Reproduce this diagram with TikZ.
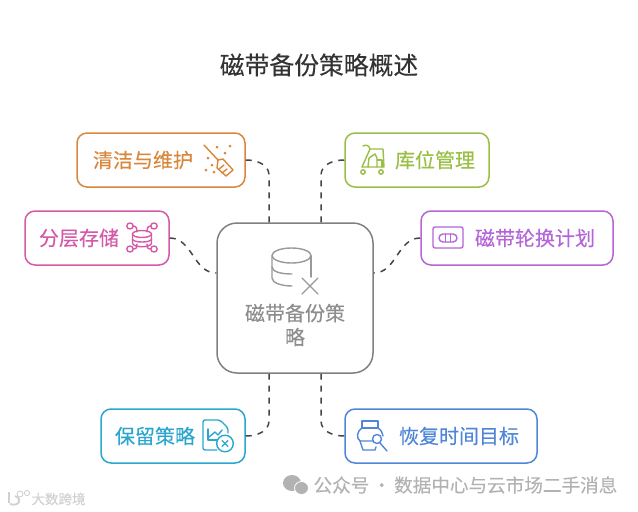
\documentclass[tikz,border=0pt]{standalone}
\usepackage{fontspec}
\setmainfont{Noto Sans CJK SC}[RawFeature={embolden=0.15}]
\usetikzlibrary{arrows.meta, positioning, calc}

\definecolor{mOrange}{RGB}{217,135,58}
\definecolor{mPink}{RGB}{212,90,168}
\definecolor{mGreen}{RGB}{154,191,69}
\definecolor{mPurple}{RGB}{181,101,216}
\definecolor{mCyan}{RGB}{43,166,207}
\definecolor{mBlue}{RGB}{79,134,217}
\definecolor{mGray}{RGB}{128,128,128}
\definecolor{mLine}{RGB}{68,68,68}
\definecolor{mMark}{RGB}{178,178,178}

\begin{document}
\begin{tikzpicture}[
    x=1pt, y=-1pt,
    topicbox/.style={draw=#1, line width=1.5pt, rounded corners=10pt, fill=white,
        minimum height=54pt, inner sep=0pt},
    topictext/.style={text=#1, font=\fontsize{20}{24}\selectfont},
    linkline/.style={line width=1.5pt, draw=mLine, dash pattern=on 6pt off 6pt},
    iconline/.style={line width=1.4pt, draw=#1, line cap=round, line join=round},
]

\useasboundingbox (0,0) rectangle (638,512);

% Title
\node[font=\fontsize{24.8}{29}\selectfont, text=black!80] (title) at (319,65) {磁带备份策略概述};

% ===== Centre box =====
\node[draw=mGray, line width=1.5pt, rounded corners=20pt, minimum width=156pt, minimum height=150pt,
    inner sep=0pt] (main) at (295,298) {};
\node[font=\fontsize{20}{24}\selectfont, text=mGray!90, align=center] (maintext) at (295,325) {磁带备份策\\略};

% ===== Outer boxes =====
\node[topicbox=mOrange, minimum width=168pt] (clean) at (161,160) {};
\node[topicbox=mPink, minimum width=144pt] (tier) at (97,238) {};
\node[topicbox=mGreen, minimum width=144pt] (lib) at (417,160) {};
\node[topicbox=mPurple, minimum width=192pt] (rota) at (517,238) {};
\node[topicbox=mCyan, minimum width=144pt] (keep) at (173,436) {};
\node[topicbox=mBlue, minimum width=192pt] (rto) at (441,436) {};

\node[topictext=mOrange] (cleantext) at (143,160) {清洁与维护};
\node[topictext=mPink] (tiertext) at (79,238) {分层存储};
\node[topictext=mGreen] (libtext) at (435,160) {库位管理};
\node[topictext=mPurple] (rotatext) at (535,238) {磁带轮换计划};
\node[topictext=mCyan] (keeptext) at (155,436) {保留策略};
\node[topictext=mBlue] (rtotext) at (459,436) {恢复时间目标};

% ===== Connection points on the centre box =====
\coordinate (mainNW) at ($(main.north)+(-26,0)$);
\coordinate (mainNE) at ($(main.north)+(26,0)$);
\coordinate (mainSW) at ($(main.south)+(-26,0)$);
\coordinate (mainSE) at ($(main.south)+(26,0)$);
\coordinate (mainWN) at ($(main.west)+(0,-25)$);
\coordinate (mainEN) at ($(main.east)+(0,-25)$);

% Connectors
\draw[linkline] (clean.east) to[out=0, in=90] ($(mainNW)+(0,-47)$) -- (mainNW);
\draw[linkline] (lib.west) to[out=180, in=90] ($(mainNE)+(0,-47)$) -- (mainNE);
\draw[linkline] (tier.east) to[out=0, in=180] (mainWN);
\draw[linkline] (rota.west) to[out=180, in=0] (mainEN);
\draw[linkline] (keep.east) to[out=0, in=-90] ($(mainSW)+(0,47)$) -- (mainSW);
\draw[linkline] (rto.west) to[out=180, in=-90] ($(mainSE)+(0,47)$) -- (mainSE);

% ===== Icons =====
% Centre: database with cross
\begin{scope}[shift={(272,248)}]
\draw[iconline=mGray!80] (0,7.5) arc[start angle=180, end angle=-180, x radius=19.5, y radius=7.5];
\draw[iconline=mGray!80] (0,8) -- (0,30) .. controls (0,35) and (10,38) .. (20,38);
\draw[iconline=mGray!80] (39,8) -- (39,29);
\draw[iconline=mGray!80] (0,19) .. controls (0,24) and (10,26) .. (20,26);
\draw[iconline=mGray!80] (30,30) -- (46,46);
\draw[iconline=mGray!80] (46,30) -- (30,46);
\end{scope}

% Broom
\begin{scope}[shift={(204,145)}]
\draw[iconline=mOrange] (0,0) -- (14,15);
\draw[iconline=mOrange] (14,15) -- (19,14) -- (29,25) -- (22,31) -- (13,23) -- cycle;
\draw[iconline=mOrange] (23,24) -- (18,28);
\draw[iconline=mOrange] (20,20) -- (15,24);
\foreach \x/\y in {13/2, 21/8, 26/1, 4/13, 8/20, 10/27, 2/25} {
    \fill[mOrange] (\x,\y) circle[radius=1.5];
}
\end{scope}

% Tiered storage
\begin{scope}[shift={(127,223)}]
\foreach \x/\y in {3/3, 27/3, 3/26, 27/26} {
    \draw[iconline=mPink] (\x,\y) ellipse[x radius=3.2, y radius=3];
}
\draw[iconline=mPink] (6,3) .. controls (10,3) and (10,6) .. (10,9);
\draw[iconline=mPink] (24,3) .. controls (20,3) and (20,6) .. (20,9);
\draw[iconline=mPink] (6,26) .. controls (10,26) and (10,24) .. (10,21);
\draw[iconline=mPink] (24,26) .. controls (20,26) and (20,24) .. (20,21);
\draw[iconline=mPink] (15,11) ellipse[x radius=9.5, y radius=3.5];
\draw[iconline=mPink] (5.5,11) -- (5.5,20) .. controls (5.5,25) and (24.5,25) .. (24.5,20) -- (24.5,11);
\draw[iconline=mPink] (5.5,16) .. controls (5.5,20) and (24.5,20) .. (24.5,16);
\end{scope}

% Cart
\begin{scope}[shift={(361,145)}]
\draw[iconline=mGreen] (2,1) .. controls (6,-1) and (8,1) .. (9,4) -- (22,4) -- (23,22) -- (1,22);
\draw[iconline=mGreen] (9,4) -- (1,22);
\draw[iconline=mGreen] (7,22) -- (8,13) -- (14,9) -- (16,13) -- (16,22);
\draw[iconline=mGreen] (16,15) -- (21,15) -- (21,22);
\draw[iconline=mGreen] (2,27) circle[radius=2.2];
\draw[iconline=mGreen] (20,27) circle[radius=2.2];
\end{scope}

% Tape
\begin{scope}[shift={(433,227)}]
\draw[iconline=mPurple, rounded corners=2pt] (0,0) rectangle (30,21);
\draw[iconline=mPurple, rounded corners=4pt] (6,7) rectangle (24,15);
\draw[iconline=mPurple] (12.5,7) -- (12.5,15);
\draw[iconline=mPurple] (17.5,7) -- (17.5,15);
\end{scope}

% Chart page with cross
\begin{scope}[shift={(203,420)}]
\draw[iconline=mCyan, rounded corners=2pt] (14,30) -- (0,30) -- (0,0) -- (17,0) -- (25,8) -- (25,13);
\draw[iconline=mCyan] (5,9) -- (5,20) -- (14,20);
\draw[iconline=mCyan] (6,17) -- (12,12) -- (15,15) -- (19,10);
\draw[iconline=mCyan] (22,23.5) circle[radius=8.3];
\draw[iconline=mCyan] (19,20.5) -- (25,26.5);
\draw[iconline=mCyan] (25,20.5) -- (19,26.5);
\end{scope}

% Jar with magnifier
\begin{scope}[shift={(357,421)}]
\draw[iconline=mBlue] (5,0) -- (21,0) -- (21,7) -- (5,7) -- cycle;
\draw[iconline=mBlue] (5,7) .. controls (0,10) and (-1,17) .. (3,20) -- (16,20);
\draw[iconline=mBlue] (21,7) .. controls (24,9) and (26,12) .. (26,15);
\draw[iconline=mBlue] (3,20) -- (6,29) -- (18,29) -- (19,26);
\draw[iconline=mBlue] (20,18) circle[radius=4.5];
\draw[iconline=mBlue] (23,22) -- (30,30);
\end{scope}

% ===== Watermarks =====
\node[text=mMark, font=\fontsize{18.6}{22}\selectfont, anchor=west] (mark) at (310,485) {公众号\,·\,数据中心与云市场二手消息};
\fill[mMark] (292,483) ellipse[x radius=9, y radius=8];
\fill[mMark, draw=white, line width=0.8pt] (301.5,488) ellipse[x radius=7, y radius=6.5];

\node[text=mMark!60, font=\fontsize{13.5}{16}\selectfont, anchor=west] (brand) at (28,499) {大数跨境};
\draw[mMark!60, line width=1.8pt] (9,492) -- (9,503) (10,504) .. controls (19,507) and (23,499) .. (15,496);
\draw[mMark!60, line width=0.9pt] (20,494) circle[radius=3] (27,493) circle[radius=2.6];

\end{tikzpicture}
\end{document}
